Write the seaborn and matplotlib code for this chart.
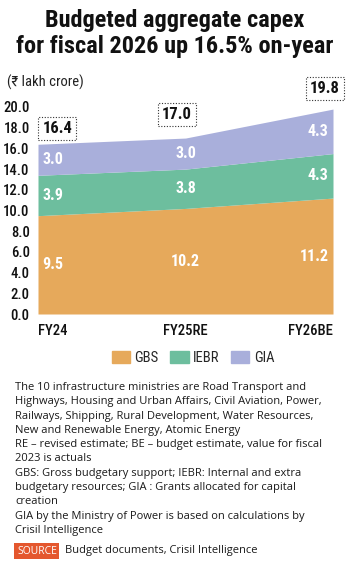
import matplotlib
matplotlib.use("Agg")
import matplotlib.pyplot as plt
import matplotlib.patches as mpatches
import seaborn as sns
import numpy as np

# Data (₹ lakh crore)
years = ["FY24", "FY25RE", "FY26BE"]
gbs = [9.5, 10.2, 11.2]
iebr = [3.9, 3.8, 4.3]
gia = [3.0, 3.0, 4.3]
totals = [16.4, 17.0, 19.8]
series_names = ["GBS", "IEBR", "GIA"]
yticks = [0, 2, 4, 6, 8, 10, 12, 14, 16, 18, 20]

COLORS = ["#E6A95B", "#6DBE9E", "#A9AFDB"]
BODY = ["Open Sans", "DejaVu Sans"]
NARROW = ["Roboto Condensed", "DejaVu Sans"]

sns.set_theme(style="white")
plt.rcParams["font.family"] = BODY

W, H = 350, 565
fig = plt.figure(figsize=(W / 100, H / 100), dpi=100)
fig.patch.set_facecolor("white")


def fx(px):
    return px / W


def fy(py):
    return 1 - py / H


# axes: x 38..333 px, y 107 (20.0) .. 314 (0.0)
ax = fig.add_axes([fx(38), fy(314), fx(333 - 38), (314 - 107) / H])
x = np.arange(len(years))
ax.stackplot(x, gbs, iebr, gia, colors=COLORS, linewidth=0)
ax.set_xlim(0, 2)
ax.set_ylim(0, 20)
sns.despine(ax=ax, left=True, bottom=True)
ax.grid(False)

ax.set_yticks(yticks)
ax.set_yticklabels([f"{v:.1f}" for v in yticks], family=NARROW, fontsize=10.5,
                   color="#111111", fontweight="medium")
ax.tick_params(axis="y", length=0, pad=6)
ax.set_xticks(x)
ax.set_xticklabels(years, family=NARROW, fontsize=10.5, color="#111111", fontweight="medium")
ax.tick_params(axis="x", length=0, pad=7)
for lab, ha in zip(ax.get_xticklabels(), ["left", "center", "right"]):
    lab.set_ha(ha)

# segment labels
has = ["left", "center", "right"]
offs = [0.03, 0, -0.03]
bottoms = [0, 0, 0]
for vals in (gbs, iebr, gia):
    for i, v in enumerate(vals):
        ax.text(i + offs[i], bottoms[i] + v / 2, f"{v:.1f}", ha=has[i], va="center",
                family=NARROW, fontweight="bold", fontsize=11.5, color="white")
        bottoms[i] += v

# totals in dotted boxes
tot_pos = [(0.03, 17.9, "left"), (0.94, 19.3, "center"), (2.045, 21.8, "right")]
for (xp, yp, ha), t in zip(tot_pos, totals):
    ax.text(xp, yp, f"{t:.1f}", ha=ha, va="center", family=NARROW,
            fontweight="bold", fontsize=12, color="#111111", clip_on=False,
            bbox=dict(boxstyle="square,pad=0.25", facecolor="white", edgecolor="#333333",
                      linestyle=(0, (1, 1.5)), linewidth=0.8))

# unit label
fig.text(fx(7), fy(82), "(₹ lakh crore)", family=NARROW, fontsize=10.5,
         color="#222222", va="center", ha="left")

# title
for ypx, line in [(21, "Budgeted aggregate capex"), (47, "for fiscal 2026 up 16.5% on-year")]:
    fig.text(0.5, fy(ypx), line, ha="center", va="center", family=NARROW,
             fontweight="bold", fontsize=17.5, color="#111111")

# legend
handles = [mpatches.Patch(color=c, label=n) for c, n in zip(COLORS, series_names)]
fig.legend(handles=handles, loc="center", bbox_to_anchor=(fx(193), fy(358)), ncol=3,
           frameon=False, handlelength=1.25, handleheight=0.8, handletextpad=0.3,
           columnspacing=0.8, prop={"family": NARROW, "size": 10.5})

# footnote
notes = ("The 10 infrastructure ministries are Road Transport and\n"
         "Highways, Housing and Urban Affairs, Civil Aviation, Power,\n"
         "Railways, Shipping, Rural Development, Water Resources,\n"
         "New and Renewable Energy, Atomic Energy\n"
         "RE \u2013 revised estimate; BE \u2013 budget estimate, value for fiscal\n"
         "2023 is actuals\n"
         "GBS: Gross budgetary support; IEBR: Internal and extra\n"
         "budgetary resources; GIA : Grants allocated for capital\n"
         "creation\n"
         "GIA by the Ministry of Power is based on calculations by\n"
         "Crisil Intelligence")
fig.text(fx(15), fy(382), notes, ha="left", va="top", family=BODY, fontsize=8.05,
         color="#1a1a1a", linespacing=1.41)

fig.text(fx(17), fy(551), "SOURCE", ha="left", va="center", family=BODY, fontsize=7.5,
         color="white", bbox=dict(boxstyle="square,pad=0.25", facecolor="#E4572E", edgecolor="none"))
fig.text(fx(65), fy(551), "Budget documents, Crisil Intelligence", ha="left", va="center",
         family=BODY, fontsize=8.05, color="#1a1a1a")

fig.savefig("out.png", dpi=100, facecolor="white")
